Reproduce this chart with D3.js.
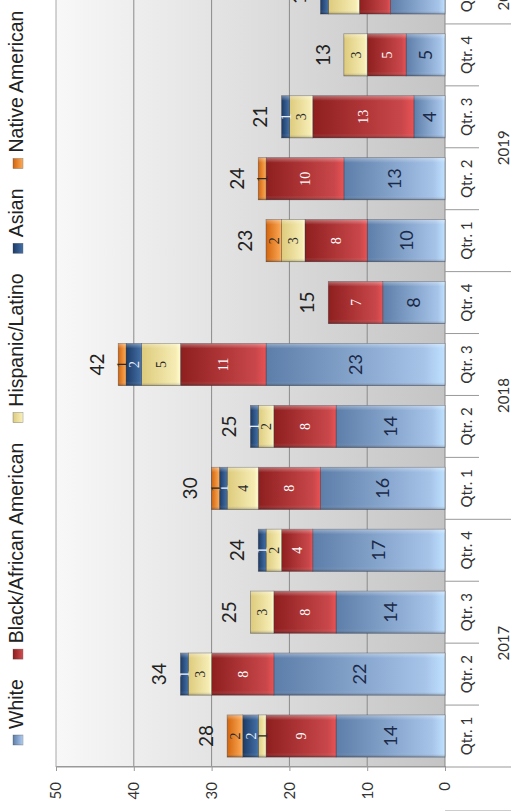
<!DOCTYPE html>
<html>
<head>
<meta charset="utf-8">
<script src="https://cdn.jsdelivr.net/npm/d3@7"></script>
<style>
  body { margin: 0; background: #fff; }
  svg { display: block; }
</style>
</head>
<body>
<svg id="chart" width="511" height="811"></svg>
<script>
// chart data
var quarters = ["Qtr. 1", "Qtr. 2", "Qtr. 3", "Qtr. 4", "Qtr. 1", "Qtr. 2", "Qtr. 3", "Qtr. 4",
                "Qtr. 1", "Qtr. 2", "Qtr. 3", "Qtr. 4", "Qtr. 1"];
var quarterYears = ["2017", "2017", "2017", "2017", "2018", "2018", "2018", "2018",
                    "2019", "2019", "2019", "2019", "2020"];
var yearLabels = ["2017", "2018", "2019", "2020"];
var seriesNames = ["White", "Black/African American", "Hispanic/Latino", "Asian", "Native American"];
var white    = [14, 22, 14, 17, 16, 14, 23, 8, 10, 13, 4, 5, 7];
var black    = [9, 8, 8, 4, 8, 8, 11, 7, 8, 10, 13, 5, 4];
var hispanic = [1, 3, 3, 2, 4, 2, 5, 0, 3, 0, 3, 3, 4];
var asian    = [2, 1, 0, 1, 1, 1, 2, 0, 0, 0, 1, 0, 1];
var native   = [2, 0, 0, 0, 1, 0, 1, 0, 2, 1, 0, 0, 0];
var valueTicks = [0, 10, 20, 30, 40, 50];

var seriesValues = [white, black, hispanic, asian, native];
var seriesDark  = ["#5d7ea9", "#8e1f1f", "#ddcb7c", "#1c3b66", "#d2650c"];
var seriesLight = ["#a6c3e8", "#c9474a", "#f6ecb4", "#3f6a9f", "#f9a24f"];
var labelColor  = ["#1b2a48", "#ffffff", "#2a2a2a", "#e8eefa", "#2a2a2a"];

var rows = quarters.map(function (q, i) {
  var r = { idx: String(i) };
  seriesNames.forEach(function (s, k) { r[s] = seriesValues[k][i]; });
  return r;
});

var svg = d3.select("#chart");
// the chart is drawn as a normal column chart then turned a quarter turn
var W = 811, H = 511;
var g = svg.append("g").attr("transform", "translate(0," + W + ") rotate(-90)");

var defs = svg.append("defs");
seriesNames.forEach(function (s, k) {
  var lg = defs.append("linearGradient").attr("id", "grad" + k)
    .attr("x1", 0).attr("y1", 0).attr("x2", 0).attr("y2", 1);
  lg.append("stop").attr("offset", "0%").attr("stop-color", seriesDark[k]);
  lg.append("stop").attr("offset", "88%").attr("stop-color", seriesLight[k]);
  lg.append("stop").attr("offset", "100%").attr("stop-color", d3.color(seriesLight[k]).brighter(0.4));
});
var bev = defs.append("linearGradient").attr("id", "bevel")
  .attr("x1", 0).attr("y1", 0).attr("x2", 1).attr("y2", 0);
bev.append("stop").attr("offset", "0%").attr("stop-color", "#000").attr("stop-opacity", 0.25);
bev.append("stop").attr("offset", "10%").attr("stop-color", "#fff").attr("stop-opacity", 0.0);
bev.append("stop").attr("offset", "88%").attr("stop-color", "#fff").attr("stop-opacity", 0.0);
bev.append("stop").attr("offset", "100%").attr("stop-color", "#fff").attr("stop-opacity", 0.35);
var wall = defs.append("linearGradient").attr("id", "wall")
  .attr("x1", 0).attr("y1", 0).attr("x2", 0).attr("y2", 1);
wall.append("stop").attr("offset", "0%").attr("stop-color", "#f8f8f8");
wall.append("stop").attr("offset", "55%").attr("stop-color", "#dcdcdc");
wall.append("stop").attr("offset", "100%").attr("stop-color", "#c4c4c4");

var x = d3.scaleBand()
  .domain(rows.map(function (d) { return d.idx; }))
  .range([44, 849])
  .paddingInner(0.32)
  .paddingOuter(0.16);

var y = d3.scaleLinear().domain([0, 50]).range([445, 56]);

var step = x.step();
function bandStart(i) { return x(String(i)) - step * 0.16; }

// plot wall
g.append("rect")
  .attr("x", x.range()[0]).attr("y", y(50))
  .attr("width", x.range()[1] - x.range()[0]).attr("height", y(0) - y(50))
  .attr("fill", "url(#wall)");

// gridlines
g.append("g").selectAll("line").data(valueTicks.slice(1))
  .enter().append("line")
  .attr("x1", x.range()[0]).attr("x2", x.range()[1])
  .attr("y1", function (d) { return y(d); }).attr("y2", function (d) { return y(d); })
  .attr("stroke", function (d) { return d === 50 ? "#a8a8a8" : "#8a8a8a"; })
  .attr("stroke-width", 1);

// value axis
var yAxis = d3.axisLeft(y).tickValues(valueTicks).tickSize(4).tickPadding(11);
var ya = g.append("g").attr("transform", "translate(" + x.range()[0] + ",0)").call(yAxis);
ya.select(".domain").attr("stroke", "#999");
ya.selectAll(".tick line").attr("stroke", "#999");
ya.selectAll("text").attr("font-family", "Lato, 'Open Sans', sans-serif")
  .attr("font-size", 15).attr("fill", "#333");

// bottom line of the plot, running out past the axis
g.append("line")
  .attr("x1", x.range()[0]).attr("x2", x.range()[0])
  .attr("y1", y(50)).attr("y2", H)
  .attr("stroke", "#999");

// category axis line
g.append("line")
  .attr("x1", x.range()[0]).attr("x2", x.range()[1])
  .attr("y1", y(0)).attr("y2", y(0))
  .attr("stroke", "#888").attr("stroke-width", 1);

// category separators (long at year boundaries)
g.append("g").selectAll("line").data(d3.range(1, rows.length + 1))
  .enter().append("line")
  .attr("x1", function (i) { return bandStart(i); })
  .attr("x2", function (i) { return bandStart(i); })
  .attr("y1", y(0))
  .attr("y2", function (i) { return quarterYears[i] !== quarterYears[i - 1] ? H : y(0) + 34; })
  .attr("stroke", "#999");

// stacked bars
var stacked = d3.stack().keys(seriesNames)(rows);
var layers = g.append("g").selectAll("g").data(stacked).enter().append("g");

layers.selectAll("rect.seg")
  .data(function (d) { return d.filter(function (p) { return p[1] > p[0]; }); })
  .enter().append("rect").attr("class", "seg")
  .attr("x", function (d) { return x(d.data.idx); })
  .attr("width", x.bandwidth())
  .attr("y", function (d) { return y(d[1]); })
  .attr("height", function (d) { return y(d[0]) - y(d[1]); })
  .attr("fill", function () { return "url(#grad" + this.parentNode.__data__.index + ")"; })
  .attr("stroke", "rgba(50,50,60,0.55)")
  .attr("stroke-width", 0.7);

layers.selectAll("rect.bev")
  .data(function (d) { return d.filter(function (p) { return p[1] > p[0]; }); })
  .enter().append("rect").attr("class", "bev")
  .attr("x", function (d) { return x(d.data.idx); })
  .attr("width", x.bandwidth())
  .attr("y", function (d) { return y(d[1]); })
  .attr("height", function (d) { return y(d[0]) - y(d[1]); })
  .attr("fill", "url(#bevel)");

// segment labels
layers.selectAll("text")
  .data(function (d) { return d.filter(function (p) { return p[1] > p[0]; }); })
  .enter().append("text")
  .attr("x", function (d) { return x(d.data.idx) + x.bandwidth() / 2; })
  .attr("y", function (d) { return (y(d[0]) + y(d[1])) / 2; })
  .attr("dy", "0.36em")
  .attr("text-anchor", "middle")
  .attr("font-family", function () {
    return this.parentNode.__data__.index === 0 ? "Lato, 'Open Sans', sans-serif" : "'Liberation Serif', 'DejaVu Serif', serif";
  })
  .attr("font-size", function () { return this.parentNode.__data__.index === 0 ? 18 : 14; })
  .attr("fill", function () { return labelColor[this.parentNode.__data__.index]; })
  .text(function (d) { return d[1] - d[0]; });

// totals
var totals = rows.map(function (r) {
  return d3.sum(seriesNames, function (s) { return r[s]; });
});
g.append("g").selectAll("text").data(rows).enter().append("text")
  .attr("x", function (d) { return x(d.idx) + x.bandwidth() / 2; })
  .attr("y", function (d, i) { return y(totals[i]) - 21; })
  .attr("dy", "0.36em")
  .attr("text-anchor", "middle")
  .attr("font-family", "Lato, 'Open Sans', sans-serif")
  .attr("font-size", 19)
  .attr("fill", "#222")
  .text(function (d, i) { return totals[i]; });

// quarter labels
g.append("g").selectAll("text").data(rows).enter().append("text")
  .attr("x", function (d) { return x(d.idx) + x.bandwidth() / 2; })
  .attr("y", 472)
  .attr("text-anchor", "middle")
  .attr("font-family", "Lato, 'Open Sans', sans-serif")
  .attr("font-size", 15)
  .attr("fill", "#333")
  .text(function (d, i) { return quarters[i]; });

// year labels
g.append("g").selectAll("text").data(yearLabels).enter().append("text")
  .attr("x", function (yr) {
    var idx = d3.range(rows.length).filter(function (i) { return quarterYears[i] === yr; });
    return d3.mean(idx, function (i) { return x(String(i)) + x.bandwidth() / 2; });
  })
  .attr("y", 509)
  .attr("text-anchor", "middle")
  .attr("font-family", "Lato, 'Open Sans', sans-serif")
  .attr("font-size", 15)
  .attr("fill", "#333")
  .text(function (yr) { return yr; });

// legend
var legend = g.append("g");
var lx = 66;
seriesNames.forEach(function (s, k) {
  legend.append("rect")
    .attr("x", lx).attr("y", 13).attr("width", 10).attr("height", 10)
    .attr("fill", "url(#grad" + k + ")")
    .attr("stroke", "rgba(60,60,60,0.5)").attr("stroke-width", 0.6);
  var t = legend.append("text")
    .attr("x", lx + 16).attr("y", 23)
    .attr("font-family", "'Liberation Sans', Arial, sans-serif")
    .attr("font-size", 19.5)
    .attr("fill", "#222")
    .text(s);
  lx += 16 + t.node().getComputedTextLength() + 20;
});
</script>
</body>
</html>
